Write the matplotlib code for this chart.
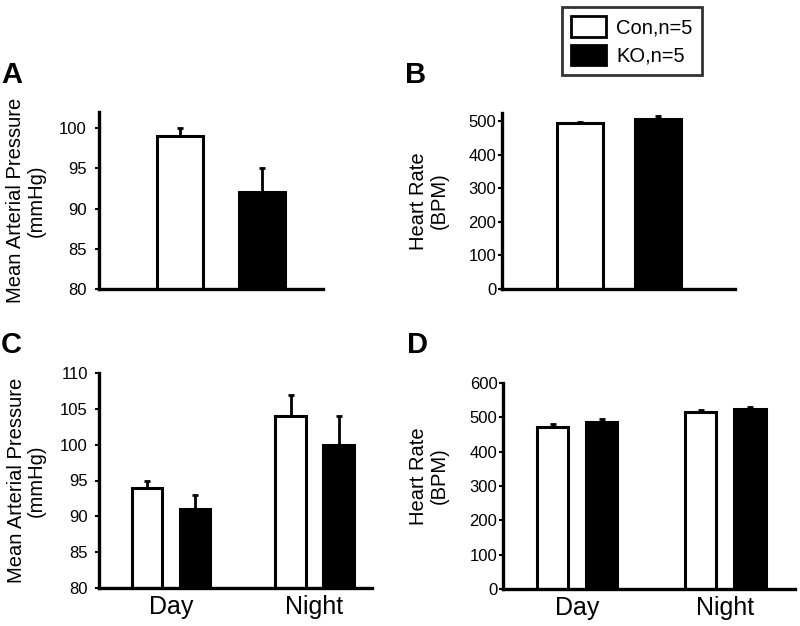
import matplotlib
matplotlib.use("Agg")
import matplotlib.pyplot as plt
from matplotlib.patches import Patch

plt.rcParams['font.family'] = ['Liberation Sans', 'DejaVu Sans']

# panel A / B: whole-day averages
groups_ab = ['Con', 'KO']
map_ab = [99, 92]
map_ab_err = [1, 3]
hr_ab = [494, 506]
hr_ab_err = [4, 10]

# panel C / D: day vs night
periods = ['Day', 'Night']
map_con = [94, 104]
map_con_err = [1, 3]
map_ko = [91, 100]
map_ko_err = [2, 4]
hr_con = [472, 515]
hr_con_err = [8, 6]
hr_ko = [486, 524]
hr_ko_err = [9, 7]

legend_labels = ['Con,n=5', 'KO,n=5']

W, H = 800, 626
fig = plt.figure(figsize=(W / 100, H / 100), dpi=100)


def add_ax(l, r, b, t):
    # pixel box -> figure fraction
    return fig.add_axes([l / W, 1 - b / H, (r - l) / W, (b - t) / H])


def style(ax, pad):
    for s in ['top', 'right']:
        ax.spines[s].set_visible(False)
    ax.spines['left'].set_linewidth(2.4)
    ax.spines['bottom'].set_linewidth(2.4)
    ax.tick_params(axis='y', length=3, width=1.5, pad=pad, labelsize=12)
    ax.tick_params(axis='x', length=0, labelsize=18, pad=5)


def bar(ax, x, val, err, color, w):
    ax.bar(x, val, width=w, color=color, edgecolor='black', linewidth=2.2, zorder=2)
    ax.errorbar(x, val, yerr=[[0], [err]], fmt='none', ecolor='black',
                elinewidth=2.0, capsize=2, capthick=2.0, zorder=1)


lab_kw = dict(fontsize=14.5, linespacing=1.1)

# A
axA = add_ax(99, 323, 289, 112)
for i, c in enumerate(['white', 'black']):
    bar(axA, i, map_ab[i], map_ab_err[i], c, 0.56)
axA.set_ylim(80, 102)
axA.set_yticks([80, 85, 90, 95, 100])
axA.set_xlim(-0.99, 1.74)
axA.set_xticks([])
style(axA, 6)
axA.set_ylabel('Mean Arterial Pressure\n(mmHg)', **lab_kw)
axA.yaxis.set_label_coords(-0.237, 0.5)

# B
axB = add_ax(502, 735, 289, 113)
for i, c in enumerate(['white', 'black']):
    bar(axB, i, hr_ab[i], hr_ab_err[i], c, 0.59)
axB.set_ylim(0, 525)
axB.set_yticks([0, 100, 200, 300, 400, 500])
axB.set_xlim(-1.0, 1.99)
axB.set_xticks([])
style(axB, 1)
axB.set_ylabel('Heart Rate\n(BPM)', **lab_kw)
axB.yaxis.set_label_coords(-0.23, 0.5)

# C
axC = add_ax(99, 372, 588, 373)
for i in range(len(periods)):
    bar(axC, i - 0.167, map_con[i], map_con_err[i], 'white', 0.21)
    bar(axC, i + 0.167, map_ko[i], map_ko_err[i], 'black', 0.21)
axC.set_ylim(80, 110)
axC.set_yticks([80, 85, 90, 95, 100, 105, 110])
axC.set_xlim(-0.5, 1.40)
axC.set_xticks(range(len(periods)))
axC.set_xticklabels(periods)
style(axC, 5)
axC.set_ylabel('Mean Arterial Pressure\n(mmHg)', **lab_kw)
axC.yaxis.set_label_coords(-0.194, 0.5)

# D
axD = add_ax(503, 795, 589, 383)
for i in range(len(periods)):
    bar(axD, i - 0.166, hr_con[i], hr_con_err[i], 'white', 0.21)
    bar(axD, i + 0.166, hr_ko[i], hr_ko_err[i], 'black', 0.21)
axD.set_ylim(0, 600)
axD.set_yticks([0, 100, 200, 300, 400, 500, 600])
axD.set_xlim(-0.5, 1.47)
axD.set_xticks(range(len(periods)))
axD.set_xticklabels(periods)
style(axD, 1)
axD.set_ylabel('Heart Rate\n(BPM)', **lab_kw)
axD.yaxis.set_label_coords(-0.185, 0.55)

# panel letters
for txt, x, y in [('A', 1, 83), ('B', 405, 83), ('C', 1, 353), ('D', 407, 353)]:
    fig.text(x / W, 1 - y / H, txt, fontsize=21, fontweight='bold', va='baseline')

handles = [Patch(facecolor='white', edgecolor='black', linewidth=2.0),
           Patch(facecolor='black', edgecolor='black', linewidth=2.0)]
leg = fig.legend(handles, legend_labels, loc='center', bbox_to_anchor=(632 / W, 1 - 41 / H),
                 fontsize=14.5, frameon=True, fancybox=False, edgecolor='black',
                 handlelength=1.75, handleheight=1.2, borderpad=0.45, labelspacing=0.35,
                 handletextpad=0.5)
leg.get_frame().set_linewidth(2.0)

fig.savefig('out.png', dpi=100)
